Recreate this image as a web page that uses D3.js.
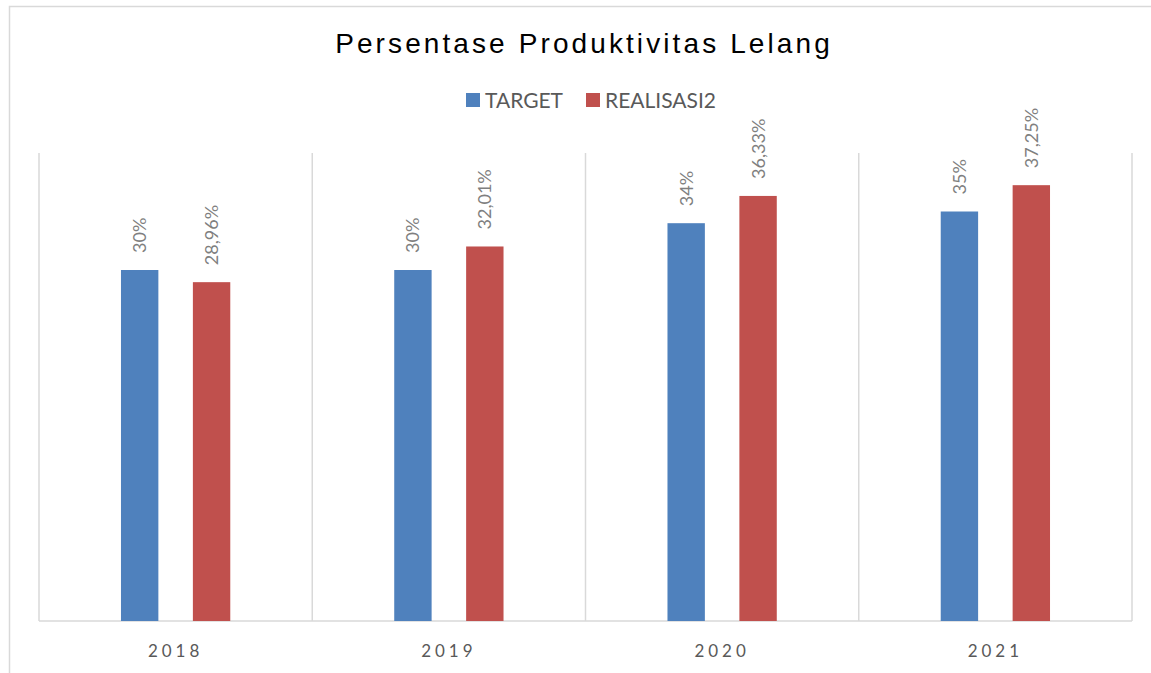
<!DOCTYPE html>
<html lang="en">
<head>
<meta charset="UTF-8">
<title>Persentase Produktivitas Lelang</title>
<script src="https://d3js.org/d3.v7.min.js"></script>
<style>
    body { margin: 0; background: #fff; }
    svg { display: block; }
</style>
</head>
<body>
<script>
// data
const years = ["2018", "2019", "2020", "2021"];
const series = ["TARGET", "REALISASI2"];
const target = [30, 30, 34, 35];
const realisasi = [28.96, 32.01, 36.33, 37.25];
const targetLabels = ["30%", "30%", "34%", "35%"];
const realisasiLabels = ["28,96%", "32,01%", "36,33%", "37,25%"];
const colors = ["#4f81bd", "#c0504d"];

const width = 1151, height = 673;
const plot = {left: 39, right: 1132, top: 153, bottom: 621};

const svg = d3.select("body").append("svg")
    .attr("width", width)
    .attr("height", height);

// chart frame
svg.append("rect")
    .attr("x", 9.5).attr("y", 6.5)
    .attr("width", 1160).attr("height", 700)
    .attr("fill", "none")
    .attr("stroke", "#d9d9d9")
    .attr("stroke-width", 1.5);

const x = d3.scaleBand().domain(years).range([plot.left, plot.right]);
const x1 = d3.scaleBand().domain(series).range([x.bandwidth() * 0.3, x.bandwidth() * 0.7]).paddingInner(0.48);
const y = d3.scaleLinear().domain([0, 40]).range([plot.bottom, plot.top]);

// vertical category separators
const seps = years.map(d => x(d)).concat([plot.right]);
svg.selectAll(".sep").data(seps).enter().append("line")
    .attr("x1", d => d).attr("x2", d => d)
    .attr("y1", plot.top).attr("y2", plot.bottom)
    .attr("stroke", "#d9d9d9").attr("stroke-width", 1.5);

// baseline
svg.append("line")
    .attr("x1", plot.left).attr("x2", plot.right)
    .attr("y1", plot.bottom).attr("y2", plot.bottom)
    .attr("stroke", "#d9d9d9").attr("stroke-width", 1.5);

const rows = [];
years.forEach((yr, i) => {
    rows.push({year: yr, s: series[0], v: target[i], lab: targetLabels[i], c: colors[0]});
    rows.push({year: yr, s: series[1], v: realisasi[i], lab: realisasiLabels[i], c: colors[1]});
});

svg.selectAll(".bar").data(rows).enter().append("rect")
    .attr("x", d => x(d.year) + x1(d.s))
    .attr("y", d => y(d.v))
    .attr("width", x1.bandwidth())
    .attr("height", d => y(0) - y(d.v))
    .attr("fill", d => d.c);

// rotated value labels
svg.selectAll(".lab").data(rows).enter().append("text")
    .attr("transform", d => {
        const cx = x(d.year) + x1(d.s) + x1.bandwidth() / 2 + 6.5;
        return `translate(${cx},${y(d.v) - 17}) rotate(-90)`;
    })
    .attr("font-family", "Lato, 'Open Sans', sans-serif")
    .attr("font-size", 18)
    .attr("fill", "#7f7f7f")
    .text(d => d.lab);

// x axis labels
svg.selectAll(".xl").data(years).enter().append("text")
    .attr("x", d => x(d) + x.bandwidth() / 2)
    .attr("y", 657)
    .attr("text-anchor", "middle")
    .attr("font-family", "Lato, sans-serif")
    .attr("font-size", 17)
    .attr("letter-spacing", 4)
    .attr("fill", "#595959")
    .text(d => d);

// title
svg.append("text")
    .attr("x", 584)
    .attr("y", 53)
    .attr("text-anchor", "middle")
    .attr("font-family", "'Liberation Sans', Arial, sans-serif")
    .attr("font-size", 28)
    .attr("letter-spacing", 3.1)
    .attr("fill", "#000")
    .text("Persentase Produktivitas Lelang");

// legend
const legendItems = [
    {name: series[0], c: colors[0], x: 466},
    {name: series[1], c: colors[1], x: 586}
];
const lg = svg.selectAll(".lg").data(legendItems).enter().append("g")
    .attr("transform", d => `translate(${d.x},93)`);
lg.append("rect").attr("width", 14).attr("height", 14).attr("fill", d => d.c);
lg.append("text")
    .attr("x", 19).attr("y", 14.5)
    .attr("font-family", "Lato, sans-serif")
    .attr("font-size", 21)
    .attr("fill", "#595959")
    .text(d => d.name);
</script>
</body>
</html>
